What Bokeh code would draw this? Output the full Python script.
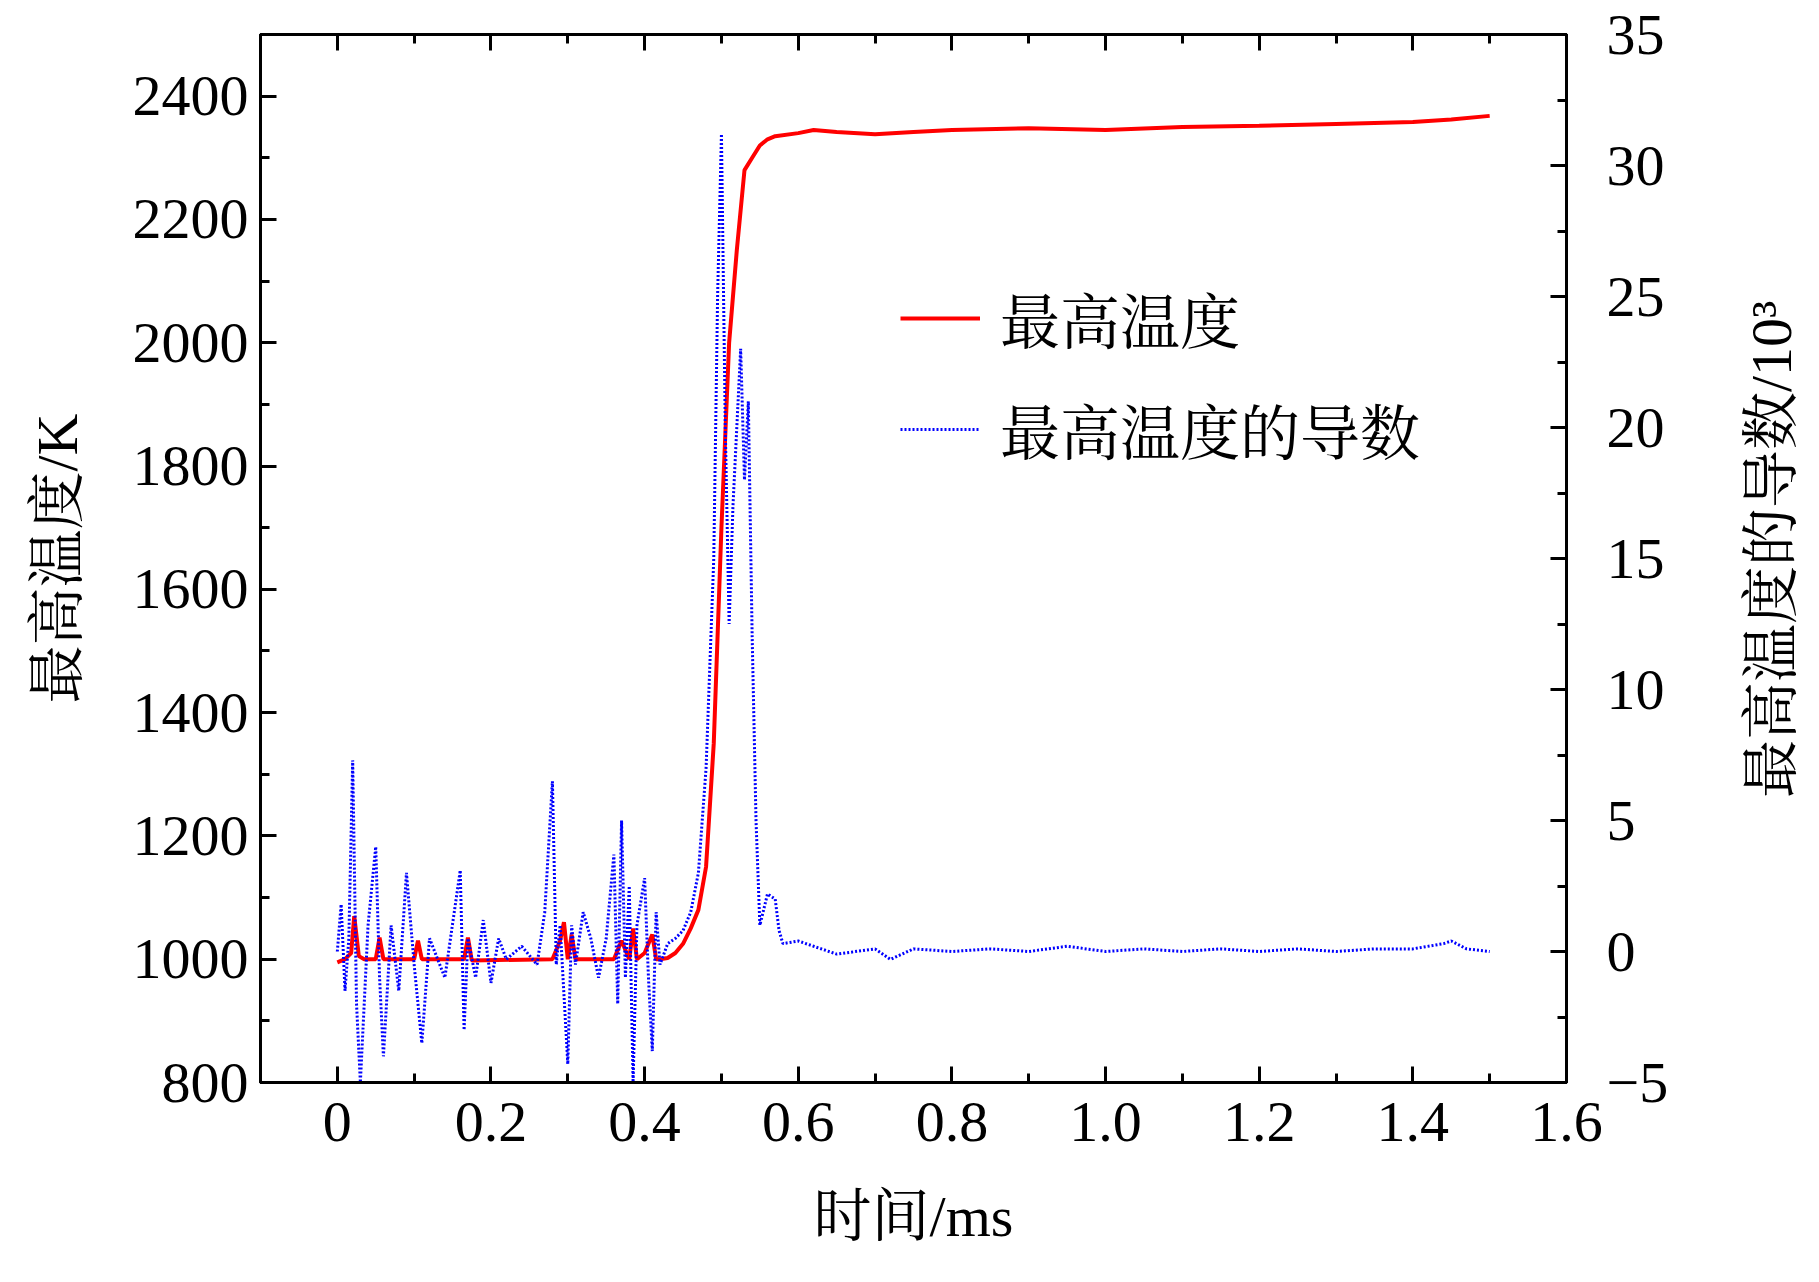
import math
from bokeh.plotting import figure
from bokeh.layouts import row
from bokeh.models import Range1d, LinearAxis, Legend, LegendItem, FixedTicker
from bokeh.core.properties import value
from bokeh.embed import file_html
from bokeh.resources import INLINE

# Max temperature (K)
t_temp = [0.0, 0.01, 0.018, 0.022, 0.028, 0.035, 0.05, 0.055, 0.06, 0.1, 0.105, 0.11, 0.165, 0.17, 0.175,
          0.28, 0.29, 0.295, 0.3, 0.305, 0.31, 0.36, 0.37, 0.38, 0.385, 0.39, 0.40, 0.41, 0.415, 0.42, 0.43, 0.44,
          0.45, 0.46, 0.47, 0.48, 0.49, 0.50, 0.51, 0.52, 0.53, 0.54, 0.55, 0.56, 0.57, 0.6, 0.62, 0.65,
          0.7, 0.75, 0.8, 0.9, 1.0, 1.1, 1.2, 1.3, 1.4, 1.45, 1.5]
temp = [995, 1000, 1010, 1070, 1005, 1000, 1000, 1035, 1000, 1000, 1030, 1000, 1000, 1035, 998,
        1000, 1030, 1060, 1000, 1040, 1000, 1000, 1030, 1000, 1050, 1000, 1010, 1040, 1000, 1000, 1002, 1010,
        1025, 1050, 1080, 1150, 1350, 1700, 2000, 2150, 2280, 2300, 2320, 2330, 2335, 2340, 2345, 2342,
        2338, 2342, 2345, 2348, 2345, 2350, 2352, 2355, 2358, 2362, 2368]

# Derivative (10^3 K/ms)
t_der = [0.0, 0.005, 0.01, 0.015, 0.02, 0.025, 0.03, 0.04, 0.05, 0.055, 0.06, 0.07, 0.08, 0.09, 0.1, 0.11,
         0.12, 0.14, 0.16, 0.165, 0.17, 0.18, 0.19, 0.2, 0.21, 0.22, 0.24, 0.26, 0.27, 0.28, 0.285, 0.29, 0.3,
         0.305, 0.31, 0.32, 0.33, 0.34, 0.35, 0.36, 0.365, 0.37, 0.375, 0.38, 0.385, 0.39, 0.40, 0.405, 0.41,
         0.415, 0.42, 0.43, 0.44, 0.45, 0.46, 0.47, 0.48, 0.49, 0.495, 0.50, 0.505, 0.51, 0.515, 0.52,
         0.525, 0.53, 0.535, 0.54, 0.545, 0.55, 0.56, 0.57, 0.575, 0.58, 0.6, 0.62, 0.65, 0.7, 0.72, 0.75,
         0.8, 0.85, 0.9, 0.95, 1.0, 1.05, 1.1, 1.15, 1.2, 1.25, 1.3, 1.35, 1.4, 1.44, 1.45, 1.47, 1.5]
deriv = [0.0, 1.8, -1.5, 0.5, 7.3, -2.0, -5.0, 1.0, 4.0, -1.0, -4.0, 1.0, -1.5, 3.0, -0.5, -3.5,
         0.5, -1.0, 3.1, -3.0, 0.5, -1.0, 1.2, -1.2, 0.5, -0.3, 0.2, -0.5, 1.5, 6.5, -0.5, 1.0, -4.3,
         1.0, -0.5, 1.5, 0.5, -1.0, 0.5, 3.7, -2.0, 5.0, -1.0, 2.5, -5.0, 1.0, 2.8, -1.0, -3.8,
         1.5, -0.5, 0.3, 0.5, 0.8, 1.5, 3.0, 7.0, 15.0, 25.0, 31.2, 20.0, 12.5, 17.0, 20.0,
         23.0, 18.0, 21.0, 12.0, 5.0, 1.0, 2.2, 2.0, 0.8, 0.3, 0.4, 0.2, -0.1, 0.1, -0.3, 0.1,
         0.0, 0.1, 0.0, 0.2, 0.0, 0.1, 0.0, 0.1, 0.0, 0.1, 0.0, 0.1, 0.1, 0.3, 0.4, 0.1, 0.0]

x_ticks = [0, 0.2, 0.4, 0.6, 0.8, 1.0, 1.2, 1.4, 1.6]
x_labels = {0: "0", 0.2: "0.2", 0.4: "0.4", 0.6: "0.6", 0.8: "0.8", 1.0: "1.0", 1.2: "1.2", 1.4: "1.4", 1.6: "1.6"}
right_label = "最高温度的导数/10³"

FONT = "Liberation Serif, Noto Serif CJK SC, Noto Sans CJK SC"
FS = "58px"

p = figure(width=1735, height=1260, output_backend="svg", toolbar_location=None,
           x_range=Range1d(-0.1, 1.6), y_range=Range1d(800, 2500),
           min_border_left=260, min_border_right=169, min_border_top=34, min_border_bottom=178)
p.extra_y_ranges = {"d": Range1d(-5, 35)}
p.grid.visible = False
p.outline_line_color = "black"
p.outline_line_width = 3

r1 = p.line(t_temp, temp, color="#ff0000", line_width=4)
r2 = p.line(t_der, deriv, color="#0000ff", line_width=3, line_dash="2 2", y_range_name="d")

def style(ax):
    ax.major_label_text_font = FONT
    ax.major_label_text_font_size = FS
    ax.major_label_text_color = "black"
    ax.axis_label_text_font = FONT
    ax.axis_label_text_font_size = FS
    ax.axis_label_text_color = "black"
    ax.axis_label_text_font_style = "normal"
    ax.major_tick_in = 16
    ax.major_tick_out = 0
    ax.minor_tick_in = 9
    ax.minor_tick_out = 0
    ax.major_tick_line_width = 3
    ax.minor_tick_line_width = 3
    ax.axis_line_width = 3

xa = p.xaxis[0]
xa.ticker = FixedTicker(ticks=x_ticks, minor_ticks=[-0.1 + 0.1 * i for i in range(18)])
xa.major_label_overrides = x_labels
xa.axis_label = "时间/ms"
style(xa)
xa.major_label_standoff = 20
xa.axis_label_standoff = 40

ya = p.yaxis[0]
ya.ticker = FixedTicker(ticks=list(range(800, 2401, 200)), minor_ticks=list(range(800, 2501, 100)))
ya.axis_label = "最高温度/K"
style(ya)
ya.major_label_standoff = 12
ya.axis_label_standoff = 40

ra = LinearAxis(y_range_name="d", ticker=FixedTicker(ticks=list(range(-5, 36, 5)),
                minor_ticks=[-5 + 2.5 * i for i in range(17)]))
ra.major_label_overrides = {-5: "−5"}
style(ra)
ra.major_label_standoff = 40
p.add_layout(ra, "right")

ta = LinearAxis(ticker=FixedTicker(ticks=x_ticks, minor_ticks=[-0.1 + 0.1 * i for i in range(18)]))
style(ta)
ta.major_label_text_font_size = "0px"
p.add_layout(ta, "above")

leg = Legend(items=[LegendItem(label="最高温度", renderers=[r1]),
                    LegendItem(label="最高温度的导数", renderers=[r2])],
             location=(630, 600), label_text_font=FONT, label_text_font_size="60px",
             label_text_color="black",
             glyph_width=80, label_standoff=20, spacing=25, background_fill_alpha=0,
             border_line_alpha=0)
p.add_layout(leg, "center")

# narrow side panel carrying the right axis title (reads bottom-to-top)
p2 = figure(width=72, height=1260, output_backend="svg", toolbar_location=None,
            x_range=Range1d(0, 1), y_range=Range1d(0, 1260),
            min_border_left=0, min_border_right=0, min_border_top=0, min_border_bottom=0)
p2.axis.visible = False
p2.grid.visible = False
p2.outline_line_color = None
p2.text(x=[0.5], y=[1260 - 34 - 585], text=[right_label], angle=math.pi / 2,
        text_align="center", text_baseline="middle", text_font=value(FONT),
        text_font_size=FS, text_color="black")

open("out.html", "w").write(file_html(row(p, p2), INLINE))
